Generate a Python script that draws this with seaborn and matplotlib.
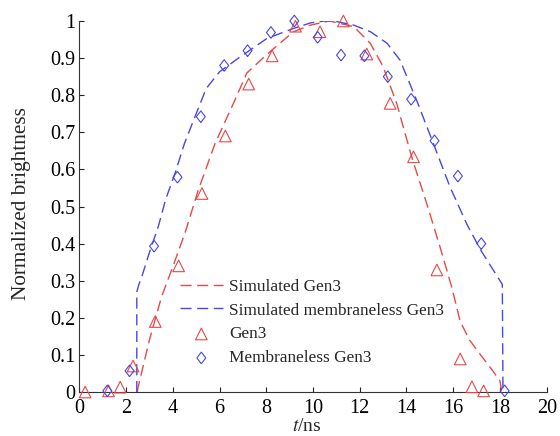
import numpy as np
import pandas as pd
import matplotlib
matplotlib.use("Agg")
import matplotlib.pyplot as plt
import seaborn as sns

# Measured data: Gen3 and membraneless Gen3 tubes
gen3_t = [0.25, 1.25, 1.75, 2.3, 3.25, 4.25, 5.25, 6.25, 7.25, 8.25, 9.25,
          10.3, 11.3, 12.3, 13.3, 14.3, 15.3, 16.3, 16.8, 17.3]
gen3_b = [0.0, 0.003, 0.013, 0.07, 0.19, 0.34, 0.535, 0.69, 0.83, 0.906, 0.986,
          0.971, 1.0, 0.911, 0.778, 0.634, 0.329, 0.089, 0.014, 0.003]

mem_t = [1.2, 2.15, 3.2, 4.2, 5.2, 6.2, 7.2, 8.2, 9.2, 10.2, 11.2, 12.2, 13.2,
         14.2, 15.2, 16.2, 17.2, 18.2]
mem_b = [0.003, 0.057, 0.393, 0.579, 0.742, 0.88, 0.92, 0.969, 1.0, 0.956, 0.908,
         0.906, 0.85, 0.789, 0.677, 0.582, 0.40, 0.003]

# Simulated curves
sim_gen3_t = [2.48, 2.52, 3.0, 3.52, 3.95, 4.52, 5.09, 5.81, 6.66, 7.17, 8.03,
              9.16, 9.9, 10.7, 11.74, 12.45, 13.0, 13.58, 14.22, 14.86, 15.43,
              15.93, 16.3, 16.7, 17.17, 17.6, 18.0, 18.08]
sim_gen3_b = [0.0, 0.014, 0.14, 0.257, 0.329, 0.428, 0.544, 0.67, 0.787, 0.86, 0.91,
              0.971, 0.989, 1.0, 0.985, 0.94, 0.877, 0.778, 0.634, 0.509, 0.392,
              0.284, 0.19, 0.14, 0.1, 0.065, 0.03, 0.0]

sim_mem_t = [2.46, 2.46, 2.55, 2.67, 3.0, 3.38, 3.7, 4.1, 4.5, 4.95, 5.43, 6.0,
             6.9, 8.03, 9.17, 9.9, 10.5, 10.89, 11.74, 12.46, 13.17, 13.72, 14.43,
             15.15, 15.86, 16.6, 17.2, 17.6, 18.1, 18.13]
sim_mem_b = [0.0, 0.27, 0.29, 0.31, 0.376, 0.446, 0.52, 0.59, 0.67, 0.742, 0.818,
             0.863, 0.904, 0.953, 0.98, 0.995, 1.0, 1.0, 0.989, 0.971, 0.94, 0.895,
             0.787, 0.67, 0.553, 0.45, 0.38, 0.34, 0.29, 0.0]

x_ticks = list(range(0, 21, 2))
y_ticks = [0, 0.1, 0.2, 0.3, 0.4, 0.5, 0.6, 0.7, 0.8, 0.9, 1.0]
y_ticklabels = ["0", "0.1", "0.2", "0.3", "0.4", "0.5", "0.6", "0.7", "0.8", "0.9", "1"]

RED = "#e84848"
BLUE = "#4848e0"

sns.set_style("ticks")
plt.rcParams["font.family"] = "serif"
plt.rcParams["font.serif"] = ["Liberation Serif", "DejaVu Serif"]
plt.rcParams["mathtext.fontset"] = "stix"

fig = plt.figure(figsize=(5.6, 4.36), dpi=100)
ax = fig.add_axes([79.3 / 560, 44 / 436, 467.4 / 560, 371 / 436])

dash = (8, 4)
sns.lineplot(x=sim_gen3_t, y=sim_gen3_b, sort=False, estimator=None, ax=ax,
             color=RED, lw=1.0, label="Simulated Gen3")
sns.lineplot(x=sim_mem_t, y=sim_mem_b, sort=False, estimator=None, ax=ax,
             color=BLUE, lw=1.0, label="Simulated membraneless Gen3")
for ln in ax.get_lines():
    ln.set_dashes(dash)

diamond = [(0, -1.3), (1, 0), (0, 1.3), (-1, 0), (0, -1.3)]
sns.scatterplot(x=gen3_t, y=gen3_b, ax=ax, marker="^", s=70, facecolor="none",
                edgecolor=RED, linewidth=0.8, label="Gen3", clip_on=False, zorder=3)
sns.scatterplot(x=mem_t, y=mem_b, ax=ax, marker=diamond, s=70, facecolor="none",
                edgecolor=BLUE, linewidth=0.8, label="Membraneless Gen3",
                clip_on=False, zorder=3)

ax.set_xlim(0, 20)
ax.set_ylim(0, 1)
ax.set_xticks(x_ticks)
ax.set_yticks(y_ticks)
ax.set_yticklabels(y_ticklabels)
ax.tick_params(direction="in", length=3.6, width=0.8, labelsize=14.5,
               colors="#222222", labelcolor="black")
ax.tick_params(axis="x", pad=5.0)
ax.tick_params(axis="y", pad=3)
for side in ("top", "right"):
    ax.spines[side].set_visible(False)
for side in ("left", "bottom"):
    ax.spines[side].set_linewidth(0.8)
    ax.spines[side].set_color("#333333")

ax.set_xlabel("$t$/ns", fontsize=14, va="baseline")
ax.xaxis.set_label_coords(0.4865, -0.1050)
ax.set_ylabel("Normalized brightness", fontsize=15.3)
ax.yaxis.set_label_coords(-0.103, 0.508)

leg = ax.legend(loc="upper left", bbox_to_anchor=(0.215, 0.306), frameon=False,
                fontsize=12.4, handlelength=2.5, handletextpad=0.35,
                labelspacing=0.46, borderpad=0, borderaxespad=0)
for h in leg.get_lines():
    h.set_dashes(dash)

fig.savefig("out.png", dpi=100)
